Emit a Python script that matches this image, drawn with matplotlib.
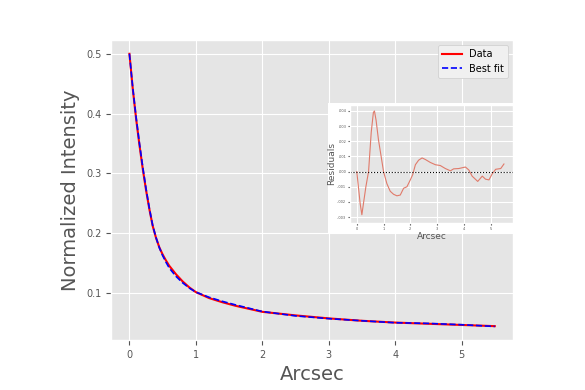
import matplotlib
matplotlib.use("Agg")
import matplotlib.pyplot as plt
from matplotlib.patches import Rectangle

# profil radial normalise
arcsec = [0.0, 0.05, 0.1, 0.15, 0.2, 0.25, 0.3, 0.35, 0.4, 0.45, 0.5, 0.55,
          0.6, 0.7, 0.8, 0.9, 1.0, 1.2, 1.4, 1.6, 1.8, 2.0, 2.5, 3.0, 3.5,
          4.0, 4.5, 5.0, 5.5]
data = [0.500, 0.442, 0.392, 0.348, 0.308, 0.272, 0.240, 0.212, 0.192,
        0.176, 0.164, 0.154, 0.145, 0.131, 0.119, 0.109, 0.101, 0.091,
        0.084, 0.078, 0.073, 0.068, 0.062, 0.057, 0.053, 0.050, 0.048,
        0.046, 0.044]
best_fit = [0.500, 0.443, 0.3941, 0.3508, 0.3108, 0.2741, 0.2414, 0.2127,
            0.1924, 0.1755, 0.1622, 0.1512, 0.1413, 0.1275, 0.1167, 0.1079,
            0.101, 0.0923, 0.0855, 0.0795, 0.074, 0.0685, 0.0612, 0.0566,
            0.053, 0.0497, 0.0486, 0.0464, 0.0435]

# residus (encart)
res_x = [0.0, 0.06, 0.125, 0.19, 0.25, 0.34, 0.44, 0.54, 0.62, 0.66, 0.72,
         0.81, 0.91, 1.0, 1.125, 1.25, 1.375, 1.5, 1.625, 1.75, 1.875, 2.0,
         2.09, 2.19, 2.31, 2.44, 2.56, 2.75, 2.94, 3.12, 3.31, 3.5, 3.62,
         3.81, 4.06, 4.19, 4.31, 4.52, 4.69, 4.81, 4.94, 5.06, 5.19, 5.38,
         5.5]
res_y = [0.0, -0.001, -0.0021, -0.00285, -0.0021, -0.001, 0.0, 0.0026,
         0.0039, 0.0040, 0.0034, 0.0021, 0.001, 0.0, -0.0008, -0.0013,
         -0.0015, -0.0016, -0.00155, -0.0011, -0.001, -0.00055, -0.0002,
         0.00045, 0.00075, 0.0009, 0.0008, 0.0006, 0.00045, 0.0004, 0.0002,
         0.00005, 0.00018, 0.0002, 0.0003, 0.0001, -0.0003, -0.00065,
         -0.0003, -0.0005, -0.00055, -0.00015, 0.00015, 0.0002, 0.0005]

plt.style.use("ggplot")
fig = plt.figure(figsize=(5.85, 3.9), dpi=100)
fig.patch.set_facecolor("white")

ax = fig.add_axes([0.19, 0.128, 0.687, 0.769])
ax.plot(arcsec, data, color="red", lw=1.5, label="Data")
ax.plot(arcsec, best_fit, color="blue", lw=1.2, ls="--", label="Best fit")
ax.set_xlabel("Arcsec", fontsize=14, color="#555555")
ax.set_ylabel("Normalized Intensity", fontsize=14, color="#555555")
ax.tick_params(labelsize=7)
ax.set_xticks([0, 1, 2, 3, 4, 5])
ax.set_yticks([0.1, 0.2, 0.3, 0.4, 0.5])
ax.legend(loc="upper right", fontsize=7, facecolor="#f0f0f0",
          edgecolor="#cccccc", framealpha=1)

# encart : fond blanc comme une image collee
fig.patches.append(Rectangle((0.561, 0.40), 0.318, 0.336, transform=fig.transFigure,
                             facecolor="white", edgecolor="none", zorder=5))
ins = fig.add_axes([0.598, 0.428, 0.279, 0.303], zorder=6)
ins.plot(res_x, res_y, color="#e07a6a", lw=0.8)
ins.axhline(0, color="black", ls=":", lw=0.8)
ins.set_xlim(-0.26, 5.84)
ins.set_ylim(-0.0034, 0.0044)
ins.set_xticks([0, 1, 2, 3, 4, 5])
ins.set_yticks([-0.003, -0.002, -0.001, 0.0, 0.001, 0.002, 0.003, 0.004])
ins.set_yticklabels(["-.003", "-.002", "-.001", ".000", ".001", ".002", ".003", ".004"])
ins.tick_params(labelsize=2.5, length=1.5, pad=1)
ins.set_xlabel("Arcsec", fontsize=6.5, color="#555555", labelpad=1)
ins.set_ylabel("Residuals", fontsize=6.5, color="#555555", labelpad=1)

fig.savefig("out.png", dpi=100)
